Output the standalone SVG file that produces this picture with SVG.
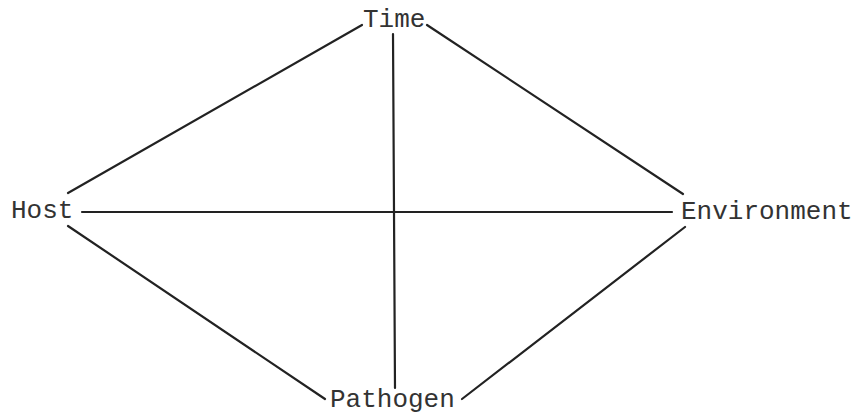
<svg xmlns="http://www.w3.org/2000/svg" width="860" height="415" viewBox="0 0 860 415">
<style>
.lbl{font-family:"Liberation Mono","Courier New",monospace;font-size:26px;fill:#333}
.ln{stroke:#222;stroke-width:2.2;fill:none;stroke-linecap:round}
</style>
<rect width="860" height="415" fill="#fff"/>
<g id="connectors">
<line class="ln" x1="68" y1="193" x2="362" y2="25"/>
<line class="ln" x1="427" y1="25" x2="683" y2="194"/>
<line class="ln" x1="82" y1="212" x2="672" y2="212"/>
<line class="ln" x1="393" y1="34" x2="395" y2="388"/>
<line class="ln" x1="68" y1="226" x2="325" y2="399"/>
<line class="ln" x1="685" y1="227" x2="462" y2="399"/>
</g>
<g id="time"><text class="lbl" x="363" y="27">Time</text></g>
<g id="host"><text class="lbl" x="11" y="218">Host</text></g>
<g id="environment"><text class="lbl" x="681" y="219">Environment</text></g>
<g id="pathogen"><text class="lbl" x="330" y="407">Pathogen</text></g>
</svg>
